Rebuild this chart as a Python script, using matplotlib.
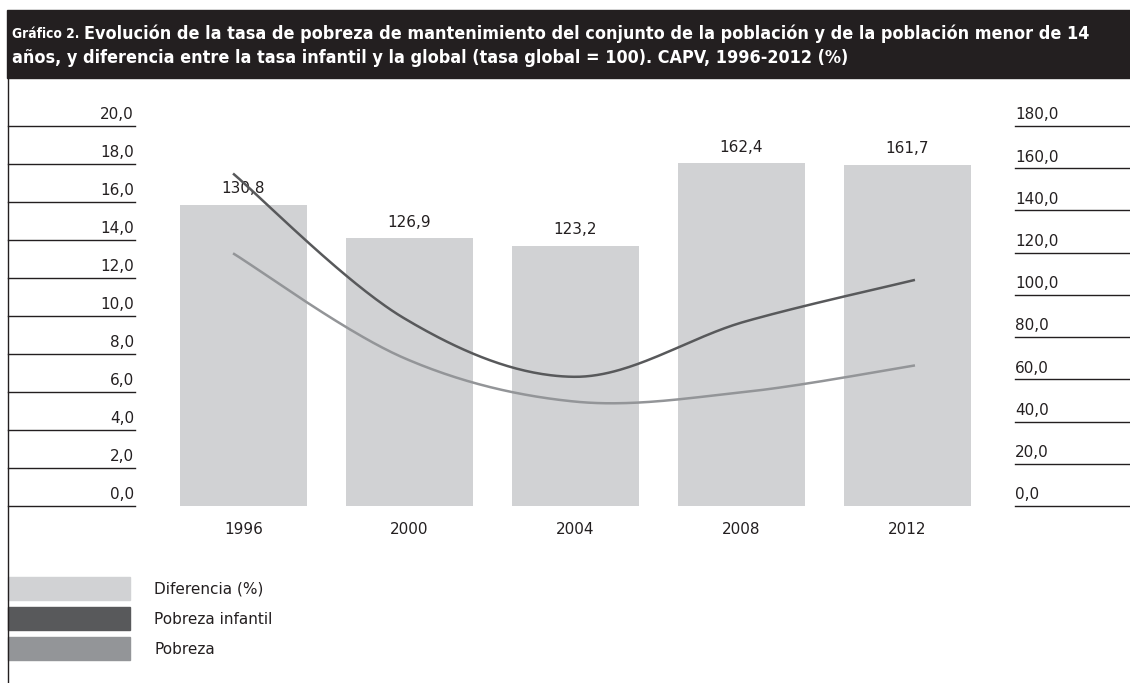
import numpy as np
import matplotlib
matplotlib.use("Agg")
import matplotlib.pyplot as plt
from matplotlib.patches import Rectangle
from matplotlib.transforms import blended_transform_factory

# ---------------- data ----------------
years = ['1996', '2000', '2004', '2008', '2012']
diferencia_heights = [142.7, 126.9, 123.2, 162.4, 161.7]
diferencia_labels = ['130,8', '126,9', '123,2', '162,4', '161,7']
pobreza_infantil = [17.5, 9.9, 6.8, 9.7, 11.9]
pobreza = [13.3, 7.8, 5.5, 6.0, 7.4]
left_ticks = [0, 2, 4, 6, 8, 10, 12, 14, 16, 18, 20]
right_ticks = [0, 20, 40, 60, 80, 100, 120, 140, 160, 180]
legend_labels = ['Diferencia (%)', 'Pobreza infantil', 'Pobreza']
title_prefix = 'Gráfico 2.'
title_line1 = 'Evolución de la tasa de pobreza de mantenimiento del conjunto de la población y de la población menor de 14'
title_line2 = 'años, y diferencia entre la tasa infantil y la global (tasa global = 100). CAPV, 1996-2012 (%)'

# ---------------- style ----------------
W, H = 1130, 683
C_BAR = '#d1d2d4'
C_INF = '#58595b'
C_POB = '#939598'
C_TXT = '#231f20'
FONT = 'DejaVu Sans'

fig = plt.figure(figsize=(W / 100, H / 100), dpi=100)
renderer = fig.canvas.get_renderer()

def fx(px):
    return px / W

def fy(py):
    return 1 - py / H

# title bar
fig.patches.append(Rectangle((fx(7), fy(78)), fx(1130) - fx(7), fy(10) - fy(78),
                             transform=fig.transFigure, color=C_TXT, zorder=0))
tkw = dict(color='white', fontweight='bold', family=FONT, va='center', ha='left',
           fontstretch='condensed')
t_pre = fig.text(fx(12), fy(34), title_prefix, fontsize=10, **tkw)
t_l1 = fig.text(fx(12), fy(34), title_line1, fontsize=13, **tkw)
t_l2 = fig.text(fx(12), fy(58), title_line2, fontsize=13, **tkw)
# fit line 1 (prefix + text) into the reference width (~12 -> 1090 px)
w_pre = t_pre.get_window_extent(renderer).width
w_l1 = t_l1.get_window_extent(renderer).width
target = 1090 - 12
scale = target / (w_pre + 5 + w_l1)
t_pre.set_fontsize(10 * scale)
t_l1.set_fontsize(13 * scale)
t_l2.set_fontsize(13 * scale)
w_pre = t_pre.get_window_extent(renderer).width
t_l1.set_x(fx(12 + w_pre + 5))

# left vertical frame line
fig.add_artist(plt.Line2D([fx(8), fx(8)], [fy(78), fy(683)], transform=fig.transFigure,
                          color=C_TXT, lw=1.0))

# main axes: x from 160.5 to 990.5 px, y from 506 (0) to 126 (top)
ax = fig.add_axes([fx(160.5), fy(506), fx(990.5) - fx(160.5), fy(126) - fy(506)])
ax2 = ax.twinx()
ax.set_zorder(2)
ax.patch.set_visible(False)
for a in (ax, ax2):
    a.set_xlim(-0.5, 4.5)
    for s in a.spines.values():
        s.set_visible(False)
    a.set_xticks([])
    a.set_yticks([])
ax.set_ylim(0, 20)
ax2.set_ylim(0, 180)

x = np.arange(len(years))
ax2.bar(x, diferencia_heights, width=0.765, color=C_BAR, zorder=1)
for xi, h, lab in zip(x, diferencia_heights, diferencia_labels):
    ax2.annotate(lab, (xi, h), xytext=(0, 11.5), textcoords='offset points',
                 ha='center', va='center', fontsize=11, color=C_TXT, family=FONT)

# year labels
for xi, yr in zip(x, years):
    ax.annotate(yr, (xi, 0), xytext=(0, -17), textcoords='offset points',
                ha='center', va='center', fontsize=11, color=C_TXT, family=FONT)

# smoothed lines (Excel-like cubic Bezier through points)
def smooth(xs, ys, n=60):
    xs = np.asarray(xs, float)
    ys = np.asarray(ys, float)
    P = np.column_stack([xs, ys])
    out = []
    m = len(P)
    for i in range(m - 1):
        p0 = P[i - 1] if i > 0 else P[i]
        p1 = P[i]
        p2 = P[i + 1]
        p3 = P[i + 2] if i + 2 < m else P[i + 1]
        c1 = p1 + (p2 - p0) / 6
        c2 = p2 - (p3 - p1) / 6
        t = np.linspace(0, 1, n)[:, None]
        seg = ((1 - t) ** 3) * p1 + 3 * ((1 - t) ** 2) * t * c1 + 3 * (1 - t) * t ** 2 * c2 + t ** 3 * p2
        out.append(seg if i == 0 else seg[1:])
    S = np.vstack(out)
    return S[:, 0], S[:, 1]

line_x = -0.063 + x * (4.108 / 4)
sx, sy = smooth(line_x, pobreza_infantil)
ax.plot(sx, sy, color=C_INF, lw=1.8, solid_capstyle='butt', zorder=3)
sx, sy = smooth(line_x, pobreza)
ax.plot(sx, sy, color=C_POB, lw=1.8, solid_capstyle='butt', zorder=3)

# left axis labels and rules
bl = blended_transform_factory(fig.transFigure, ax.transData)
for t in left_ticks:
    ax.plot([fx(8), fx(135)], [t, t], transform=bl, color=C_TXT, lw=1.0, clip_on=False)
    ax.annotate(f'{t:.1f}'.replace('.', ','), (fx(134), t), xycoords=bl,
                xytext=(0, 8), textcoords='offset points', ha='right', va='center',
                fontsize=11, color=C_TXT, family=FONT, annotation_clip=False)

# right axis labels and rules
br = blended_transform_factory(fig.transFigure, ax2.transData)
for t in right_ticks:
    ax2.plot([fx(1015), fx(1130)], [t, t], transform=br, color=C_TXT, lw=1.0, clip_on=False)
    ax2.annotate(f'{t:.1f}'.replace('.', ','), (fx(1015), t), xycoords=br,
                 xytext=(0, 8), textcoords='offset points', ha='left', va='center',
                 fontsize=11, color=C_TXT, family=FONT, annotation_clip=False)

# legend
leg_colors = [C_BAR, C_INF, C_POB]
leg_y = [577, 607, 637]
for lab, col, y0 in zip(legend_labels, leg_colors, leg_y):
    fig.patches.append(Rectangle((fx(8), fy(y0 + 23)), fx(130) - fx(8), fy(y0) - fy(y0 + 23),
                                 transform=fig.transFigure, color=col, zorder=1))
    fig.text(fx(154), fy(y0 + 12), lab, fontsize=11, color=C_TXT, family=FONT,
             ha='left', va='center')

fig.savefig('out.png', dpi=100)
